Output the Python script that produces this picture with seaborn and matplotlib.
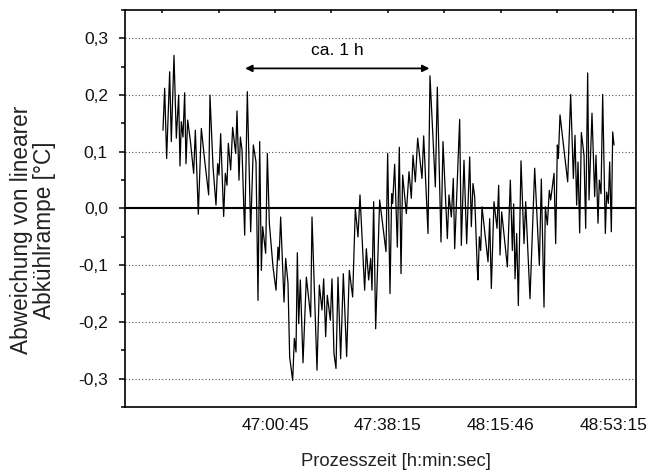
import matplotlib
matplotlib.use("Agg")
import matplotlib.pyplot as plt
import seaborn as sns
import pandas as pd
from matplotlib.ticker import FixedLocator

# process time in minutes after 46:00:00
time_min = [
    23.48, 24.04, 24.70, 25.70, 26.25, 27.14, 27.92, 28.69, 29.14, 29.58,
    30.13, 30.69, 31.13, 31.69, 32.57, 33.68, 34.24, 35.23, 36.23, 37.34,
    38.67, 39.11, 40.11, 41.11, 41.66, 42.11, 42.66, 43.66, 44.21, 44.77,
    45.21, 45.99, 46.65, 47.65, 48.09,
    48.76, 49.21, 49.76, 50.65, 51.53, 52.64, 53.53, 54.42, 55.08, 55.64,
    56.19, 56.63, 57.63, 58.19, 58.85, 60.07, 61.07, 61.73, 62.07, 62.62,
    63.29, 63.73, 64.28, 65.06, 65.61, 66.61, 67.17, 67.72, 68.16, 68.61,
    69.16, 70.05, 71.16, 72.60, 73.04, 74.70, 75.48,
    76.36, 76.92, 77.58, 78.13, 79.13, 79.69, 80.35, 81.02, 81.68, 82.57,
    83.46, 84.56, 85.45, 86.56, 87.45, 88.33, 89.00, 90.55, 91.11, 91.88,
    92.55, 92.99, 93.54, 94.21, 95.54, 97.65, 98.20, 98.98, 99.53, 99.86,
    100.53, 101.42, 102.08,
    102.64, 103.19, 104.41, 105.30, 106.07, 106.63, 107.41, 108.18, 109.62,
    110.18, 111.62, 112.28, 114.06, 114.72, 115.94, 116.61, 118.05, 118.60,
    119.38, 120.04, 120.49, 122.15, 122.70, 123.59, 124.48, 125.48, 126.03,
    126.58, 127.14, 128.03, 128.25, 128.69,
    129.14, 129.58, 131.58, 132.13, 132.68, 133.57, 134.57, 135.12, 135.57,
    136.12, 138.01, 139.00, 139.67, 140.11, 140.56, 141.11, 141.66, 142.55,
    143.55, 144.10, 145.54, 147.10, 148.65, 149.31, 150.20, 150.64, 151.31,
    151.97, 152.42, 153.53, 154.08, 154.64, 154.97, 155.52,
    158.07, 159.07, 159.96, 160.51, 161.06, 161.51, 162.06, 162.62, 163.50,
    164.06, 164.72, 165.17, 166.16, 167.05, 167.49, 168.16, 168.60, 169.16,
    169.71, 170.60, 171.04, 171.60, 172.04, 172.59, 173.04, 173.48,
]

deviation = [
    0.138, 0.212, 0.088, 0.241, 0.118, 0.270, 0.124, 0.200, 0.075, 0.153,
    0.126, 0.204, 0.079, 0.156, 0.120, 0.062, 0.138, -0.010, 0.141, 0.085,
    0.024, 0.200, 0.074, 0.006, 0.079, 0.059, 0.132, -0.014, 0.062, 0.041,
    0.115, 0.068, 0.143, 0.097, 0.172,
    0.050, 0.126, 0.103, -0.047, 0.206, -0.041, 0.112, 0.082, -0.162, 0.118,
    -0.109, -0.032, -0.079, 0.097, -0.026, -0.103, -0.144, -0.068, -0.091, -0.015,
    -0.103, -0.165, -0.088, -0.132, -0.262, -0.303, -0.229, -0.253, -0.078, -0.203,
    -0.126, -0.272, -0.121, -0.191, -0.015, -0.285, -0.135,
    -0.179, -0.124, -0.226, -0.153, -0.197, -0.124, -0.256, -0.282, -0.121, -0.265,
    -0.115, -0.261, -0.109, -0.156, 0.000, -0.050, 0.024, -0.144, -0.071, -0.126,
    -0.088, -0.144, 0.012, -0.212, 0.015, -0.076, 0.097, -0.150, 0.026, 0.009,
    0.078, -0.068, 0.108,
    -0.115, 0.059, -0.009, 0.065, 0.018, 0.094, 0.047, 0.124, 0.053,
    0.128, -0.044, 0.234, 0.038, 0.214, -0.059, 0.118, -0.053, 0.024,
    -0.015, 0.053, -0.071, 0.157, -0.065, 0.085, -0.062, 0.091, -0.032,
    0.044, 0.021, -0.109, -0.126, -0.050,
    -0.074, 0.003, -0.094, -0.018, -0.141, 0.012, -0.035, 0.041, -0.082,
    -0.006, -0.103, 0.050, -0.074, 0.008, -0.124, -0.044, -0.171, 0.084,
    -0.062, 0.012, -0.159, 0.071, -0.100, 0.052, -0.174, 0.003, -0.029,
    0.032, 0.015, 0.062, -0.062, 0.112, 0.088, 0.165,
    0.047, 0.201, 0.053, 0.129, 0.006, 0.082, -0.043, 0.134, 0.094,
    -0.035, 0.239, 0.015, 0.168, 0.021, 0.094, -0.026, 0.050, 0.026,
    0.201, -0.044, 0.029, 0.009, 0.082, -0.041, 0.135, 0.112,
]

x_tick_pos = [23.25, 60.75, 98.25, 135.77, 173.25]
x_tick_labels = ["", "47:00:45", "47:38:15", "48:15:46", "48:53:15"]
x_minor_pos = [42.0, 79.5, 117.0, 154.5]
y_tick_pos = [-0.3, -0.2, -0.1, 0.0, 0.1, 0.2, 0.3]
y_tick_labels = ["-0,3", "-0,2", "-0,1", "0,0", "0,1", "0,2", "0,3"]
y_minor_pos = [-0.35, -0.25, -0.15, -0.05, 0.05, 0.15, 0.25, 0.35]
arrow_span = (50.8, 112.1)
arrow_level = 0.247
annot_text = "ca. 1 h"

sns.set_theme(style="white")
plt.rcParams["font.family"] = ["Liberation Sans", "DejaVu Sans"]

df = pd.DataFrame({"t": time_min, "dev": deviation})

fig = plt.figure(figsize=(6.54, 4.73), dpi=100)
ax = fig.add_axes([0.1911, 0.1395, 0.7814, 0.8394])

# dotted gridlines
for yv in [-0.3, -0.2, -0.1, 0.1, 0.2, 0.3]:
    ax.axhline(yv, color="#555555", lw=0.8, ls=(0, (1, 2)), zorder=1)
ax.axhline(0.0, color="black", lw=1.5, zorder=2)

sns.lineplot(data=df, x="t", y="dev", ax=ax, color="black", lw=0.9,
             estimator=None, sort=False, zorder=3)

ax.set_xlim(10.84, 180.8)
ax.set_ylim(-0.35, 0.35)

ax.xaxis.set_major_locator(FixedLocator(x_tick_pos))
ax.set_xticklabels(x_tick_labels)
ax.xaxis.set_minor_locator(FixedLocator(x_minor_pos))
ax.yaxis.set_major_locator(FixedLocator(y_tick_pos))
ax.set_yticklabels(y_tick_labels)
ax.yaxis.set_minor_locator(FixedLocator(y_minor_pos))

ax.tick_params(axis="x", which="major", direction="out", length=6.5, width=1.1,
               labelsize=12.5, color="black", labelcolor="#111111", pad=1.5)
ax.tick_params(axis="x", which="minor", direction="out", length=4.3, width=1.1,
               color="black")
ax.tick_params(axis="y", which="major", direction="out", length=4.3, width=1.1,
               labelsize=12.5, color="black", labelcolor="#111111", pad=8)
ax.tick_params(axis="y", which="minor", direction="out", length=2.8, width=1.1,
               color="black")
ax.tick_params(axis="x", which="both", top=False)
ax.tick_params(axis="y", which="both", left=True, right=False)

# small inward ticks on the top spine
top = ax.secondary_xaxis("top")
top.xaxis.set_major_locator(FixedLocator(x_tick_pos + x_minor_pos))
top.tick_params(axis="x", direction="in", length=2, width=1.1, labeltop=False,
                color="black")
top.spines["top"].set_visible(False)

for sp in ax.spines.values():
    sp.set_color("black")
    sp.set_linewidth(1.2)

ax.set_xlabel("Prozesszeit [h:min:sec]", fontsize=13.3, color="#222222")
ax.xaxis.set_label_coords(0.531, -0.115)
ax.set_ylabel("Abweichung von linearer\nAbkühlrampe [°C]", fontsize=16.3,
              color="#222222", linespacing=1.0)
ax.yaxis.set_label_coords(-0.135, 0.446)

ax.annotate("", xy=(arrow_span[0], arrow_level), xytext=(arrow_span[1], arrow_level),
            arrowprops=dict(arrowstyle="<|-|>", color="black", lw=1.3,
                            mutation_scale=10, shrinkA=0, shrinkB=0))
ax.text((arrow_span[0] + arrow_span[1]) / 2, arrow_level + 0.018, annot_text,
        ha="center", va="bottom", fontsize=12.5, color="black")

fig.savefig("out.png", dpi=100)
